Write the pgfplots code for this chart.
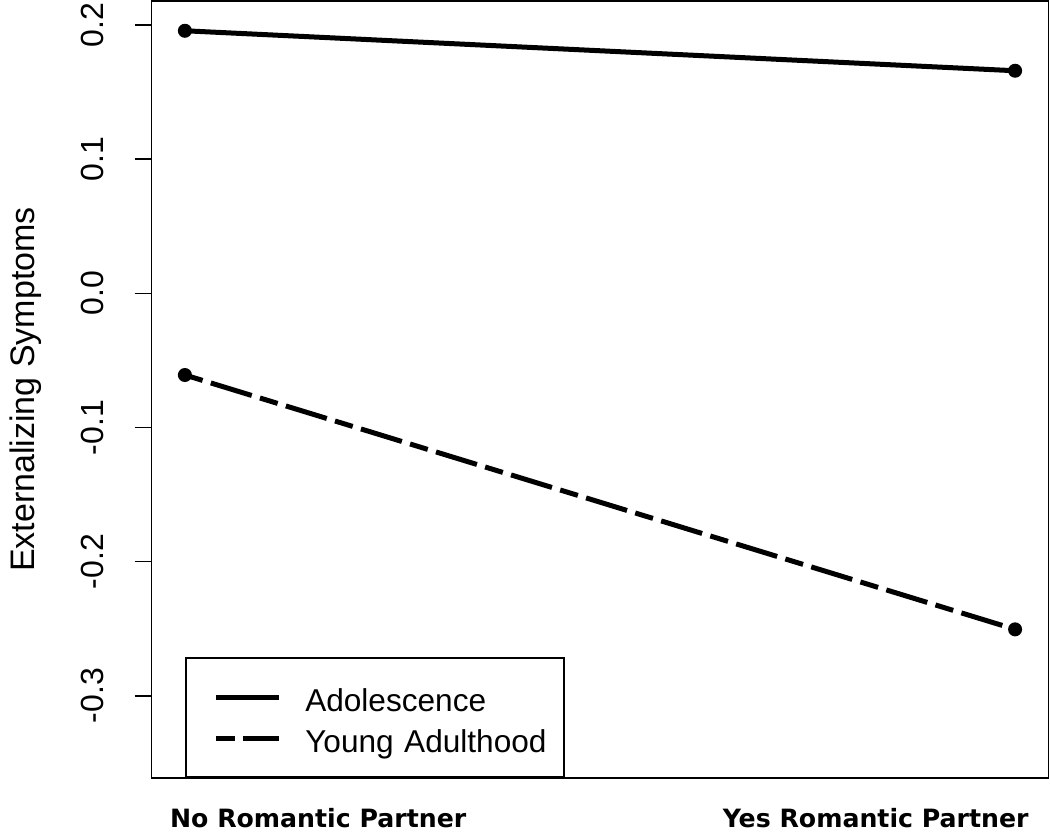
\documentclass[border=0pt]{standalone}
\usepackage{fontspec}
\setmainfont{Liberation Sans}
\newfontfamily\catfont{DejaVu Sans}
\usepackage{pgfplots}
\pgfplotsset{compat=1.18}

\begin{document}
\begin{tikzpicture}
% 1 px of the reference = 0.5pt
\useasboundingbox (-75.85pt,-27.5pt) rectangle (449.15pt,389pt);
\begin{axis}[
  at={(0,0)}, anchor=south west,
  scale only axis, width=448.3pt, height=388.5pt,
  xmin=0.96, xmax=2.04, ymin=-0.3613, ymax=0.2179,
  xtick=\empty,
  ytick={-0.3,-0.2,-0.1,0,0.1,0.2},
  yticklabels={-0.3,-0.2,-0.1,0.0,0.1,0.2},
  tick pos=left, tick align=outside, major tick length=8.5pt,
  every tick/.style={black, line width=0.8pt},
  axis line style={line width=0.8pt},
  yticklabel style={rotate=90, anchor=south, inner sep=0pt, font=\fontsize{16}{19}\selectfont},
  yticklabel shift=15pt,
  /pgf/number format/assume math mode=true,
  ylabel={Externalizing Symptoms},
  ylabel style={at={(axis description cs:-0.1302,0.5)}, anchor=base, inner sep=0pt, font=\fontsize{17}{20}\selectfont},
  legend style={at={(rel axis cs:0.0371,0)}, anchor=south west, draw=black, line width=0.8pt,
    inner xsep=14pt, inner ysep=9.25pt, row sep=0pt,
    font=\fontsize{15.8}{19}\selectfont,
    nodes={inner sep=0pt, text height=17.45pt, text depth=3.05pt, text width=115.5pt, align=left}},
  legend cell align=left,
  legend image code/.code={
    \path[draw=none, fill=none] (0pt,-2pt) rectangle (44.5pt,2pt);
    \draw[#1] (0pt,0pt) -- (31.5pt,0pt);},
]
\addplot[black, line width=2.5pt, mark=*, mark size=3pt, mark options={solid, line width=1pt}]
  coordinates {(1,0.1957) (2,0.1659)};
\addlegendentry{\mbox{Adolescence}}
\addplot[black, line width=2.5pt, dash pattern=on 9.25pt off 4.3pt on 21.4pt off 4.3pt,
  mark=*, mark size=3pt, mark options={solid, line width=1pt}]
  coordinates {(1,-0.0609) (2,-0.2505)};
\addlegendentry{\mbox{Young Adulthood}}
\end{axis}
\node[anchor=base, font=\catfont\bfseries\fontsize{12.6}{15}\selectfont] at (83.25pt,-25pt) {No Romantic Partner};
\node[anchor=base, font=\catfont\bfseries\fontsize{12.6}{15}\selectfont] at (362pt,-25pt) {Yes Romantic Partner};
\end{tikzpicture}
\end{document}
